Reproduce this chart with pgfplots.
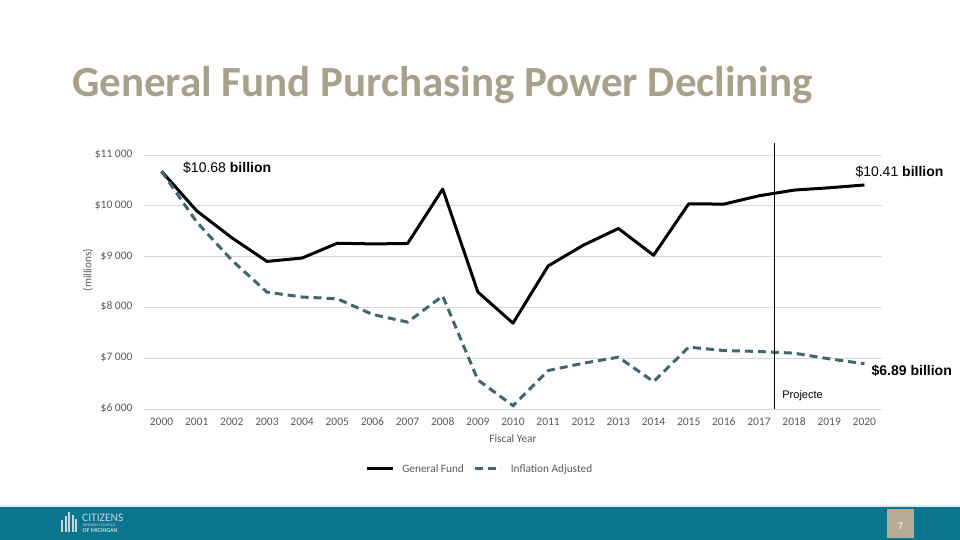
\documentclass[border=0pt]{standalone}
\usepackage{fontspec}
\setmainfont{Carlito}
\newfontfamily\lib{Liberation Sans}
\usepackage{pgfplots}
\pgfplotsset{compat=1.18}
\definecolor{gridgray}{HTML}{D9D9D9}
\definecolor{ticktext}{HTML}{595959}
\definecolor{iacol}{HTML}{41666E}
\definecolor{titlecol}{HTML}{A7A08B}
\definecolor{barteal}{HTML}{0B7590}
\definecolor{pagetan}{HTML}{B8AC96}
\definecolor{logocol}{HTML}{C9D6DA}

\begin{document}
\begin{tikzpicture}[x=1pt,y=1pt]
\useasboundingbox (0,0) rectangle (960,540);
% bottom bar
\fill[barteal] (0,0) rectangle (960,34);
\draw[logocol!60!white, line width=1.2pt] (0,34) -- (960,34);
\fill[pagetan] (887,2) rectangle (914,31);
\node[white, font=\fontsize{10}{12}\selectfont] at (900.5,14) {7};
% logo
\foreach \xx/\hh in {61/12,64.5/16,68/20,71.5/17,75/13}{\fill[logocol] (\xx,8) rectangle ++(2.2,\hh);}
\node[anchor=west, inner sep=0pt, text=logocol, font=\fontsize{11.5}{12}\selectfont] at (82,22.5) {CITIZENS};
\node[anchor=west, inner sep=0pt, text=logocol, font=\fontsize{4}{5}\selectfont] at (83,15) {RESEARCH COUNCIL};
\node[anchor=west, inner sep=0pt, text=logocol, font=\bfseries\fontsize{6}{7}\selectfont] at (82.5,9.5) {OF MICHIGAN};
% title
\node[anchor=base west, inner sep=0pt, text=titlecol, font=\bfseries\fontsize{43}{49}\selectfont] at (72,443) {General Fund Purchasing Power Declining};
\begin{axis}[
  at={(144pt,131pt)}, anchor=south west,
  scale only axis, width=738pt, height=254pt,
  xmin=1999.5, xmax=2020.5, ymin=6000, ymax=11000,
  clip=false,
  scaled y ticks=false, scaled x ticks=false,
  axis line style={draw=none},
  major tick style={draw=none},
  ymajorgrids, grid style={gridgray, line width=0.8pt},
  xtick={2000,...,2020},
  ytick={6000,7000,8000,9000,10000,11000},
  yticklabels={\$6 000,\$7 000,\$8 000,\$9 000,\$10 000,\$11 000},
  /pgf/number format/.cd, 1000 sep={}, assume math mode=true, /pgfplots/.cd,
  typeset ticklabels with strut,
  tick label style={text=ticktext, font=\fontsize{11.5}{13}\selectfont},
  yticklabel style={xshift=-8pt},
  xticklabel style={yshift=-4pt},
  xlabel={Fiscal Year},
  xlabel style={text=ticktext, font=\fontsize{11.3}{13}\selectfont, at={(axis description cs:0.5,-0.115)}, anchor=center},
  legend columns=2,
  legend style={draw=none, fill=none, at={(axis description cs:0.455,-0.236)}, anchor=center,
    font=\fontsize{11.3}{13}\selectfont, text=ticktext, column sep=6pt,
    /tikz/every even column/.append style={column sep=8pt}},
  legend image code/.code={\draw[#1] (0pt,0pt) -- (26pt,0pt);},
]
\addplot[black, line width=3pt, line join=round] coordinates {
(2000,10680) (2001,9900) (2002,9370) (2003,8905) (2004,8972) (2005,9263)
(2006,9250) (2007,9257) (2008,10330) (2009,8303) (2010,7690) (2011,8816)
(2012,9224) (2013,9553) (2014,9026) (2015,10040) (2016,10033) (2017,10197)
(2018,10309) (2019,10355) (2020,10410)};
\addlegendentry{General Fund}
\addplot[iacol, line width=3pt, dash pattern=on 8pt off 5pt] coordinates {
(2000,10680) (2001,9680) (2002,8928) (2003,8300) (2004,8204) (2005,8170)
(2006,7862) (2007,7711) (2008,8224) (2009,6572) (2010,6066) (2011,6757)
(2012,6901) (2013,7020) (2014,6539) (2015,7217) (2016,7151) (2017,7132)
(2018,7099) (2019,6987) (2020,6890)};
\addlegendentry{Inflation Adjusted}
\draw[black, line width=0.9pt] (axis cs:2017.44,6000) -- (axis cs:2017.44,11236);
\node[anchor=center, rotate=90, text=ticktext, font=\fontsize{11.3}{13}\selectfont] at (axis description cs:-0.076,0.547) {(millions)};
\node[anchor=west, inner sep=0pt, font=\lib\fontsize{14}{16}\selectfont] at (axis cs:2000.61,10745) {\$10.68 \textbf{billion}};
\node[anchor=west, inner sep=0pt, font=\lib\fontsize{14}{16}\selectfont] at (axis cs:2019.74,10665) {\$10.41 \textbf{billion}};
\node[anchor=west, inner sep=0pt, font=\lib\bfseries\fontsize{14}{16}\selectfont] at (axis cs:2020.2,6748) {\$6.89 billion};
\node[anchor=west, inner sep=0pt, font=\lib\fontsize{11}{13}\selectfont] at (axis cs:2017.66,6256) {Projecte};
\end{axis}
\end{tikzpicture}
\end{document}
